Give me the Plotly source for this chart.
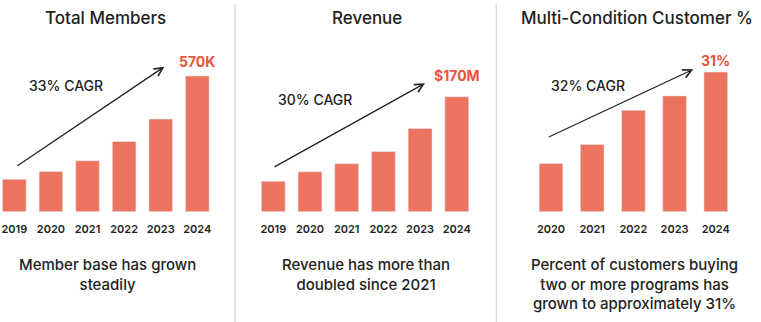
import plotly.graph_objects as go

# ---------------- data ----------------
members_years = ["2019", "2020", "2021", "2022", "2023", "2024"]
members_k = [136, 169, 214, 295, 389, 570]

revenue_years = ["2019", "2020", "2021", "2022", "2023", "2024"]
revenue_m = [45, 59, 71, 89, 123, 170]

multi_years = ["2020", "2021", "2022", "2023", "2024"]
multi_pct = [10.7, 14.9, 22.5, 25.7, 31]

titles = ["Total Members", "Revenue", "Multi-Condition Customer %"]
value_labels = ["570K", "$170M", "31%"]
cagr_labels = ["33% CAGR", "30% CAGR", "32% CAGR"]
captions = [
    ["Member base has grown", "steadily"],
    ["Revenue has more than", "doubled since 2021"],
    ["Percent of customers buying", "two or more programs has", "grown to approximately 31%"],
]

# ---------------- styling ----------------
W, H = 761, 322
BAR = "#EC735F"
LABEL = "#E9533D"
DARK = "#222222"
FONT = "Inter"

def px(x):
    return x / W

def py(y):
    return 1 - y / H

fig = go.Figure()

fig.add_trace(go.Bar(x=members_years, y=members_k, marker_color=BAR, width=0.645,
                     xaxis="x", yaxis="y", hoverinfo="skip"))
fig.add_trace(go.Bar(x=revenue_years, y=revenue_m, marker_color=BAR, width=0.65,
                     xaxis="x2", yaxis="y2", hoverinfo="skip"))
fig.add_trace(go.Bar(x=multi_years, y=multi_pct, marker_color=BAR, width=0.575,
                     xaxis="x3", yaxis="y3", hoverinfo="skip"))

ydom = [py(211.7), py(40)]
xcommon = dict(type="category", showgrid=False, zeroline=False, showline=False,
               ticks="outside", ticklen=7, tickcolor="rgba(0,0,0,0)",
               tickfont=dict(family=FONT, size=11, color=DARK, weight=600),
               fixedrange=True)
ycommon = dict(visible=False, showgrid=False, zeroline=False, fixedrange=True)

fig.update_layout(
    width=W, height=H,
    margin=dict(l=0, r=0, t=0, b=0),
    paper_bgcolor="white", plot_bgcolor="white",
    showlegend=False,
    xaxis=dict(domain=[px(0), px(230)], range=[-0.391, 5.893], anchor="y", **xcommon),
    yaxis=dict(domain=ydom, range=[0, 721.2], anchor="x", **ycommon),
    xaxis2=dict(domain=[px(245), px(490)], range=[-0.771, 5.905], anchor="y2", **xcommon),
    yaxis2=dict(domain=ydom, range=[0, 253.8], anchor="x2", **ycommon),
    xaxis3=dict(domain=[px(510), px(761)], range=[-0.995, 5.097], anchor="y3", **xcommon),
    yaxis3=dict(domain=ydom, range=[0, 38.1], anchor="x3", **ycommon),
)

annotations = []

# titles
for t, cx in zip(titles, [105, 367.3, 636.5]):
    annotations.append(dict(text=t, xref="paper", yref="paper", x=px(cx), y=py(18.5),
                            xanchor="center", yanchor="middle", showarrow=False,
                            font=dict(family=FONT, size=17, color=DARK, weight=500)))

# value labels above last bar (x given as category index)
axes = [("x", "y"), ("x2", "y2"), ("x3", "y3")]
lasts = [(len(members_years) - 1, members_k[-1], 15),
         (len(revenue_years) - 1, revenue_m[-1], 21),
         (len(multi_years) - 1, multi_pct[-1], 12)]
for (xa, ya), lab, (lx, ly, sh) in zip(axes, value_labels, lasts):
    annotations.append(dict(text=lab, xref=xa, yref=ya, x=lx, y=ly, yshift=sh,
                            xanchor="center", yanchor="middle", showarrow=False,
                            font=dict(family=FONT, size=14, color=LABEL, weight=700)))

# CAGR arrows (tail -> head) in data coordinates
arrows = [
    (("x", "y"), (0.046, 189), (4.098, 609)),
    (("x2", "y2"), (-0.008, 65.0), (4.134, 189.8)),
    (("x3", "y3"), (-0.09, 16.42), (3.454, 31.6)),
]
for (xa, ya), tail, head in arrows:
    annotations.append(dict(xref=xa, yref=ya, axref=xa, ayref=ya,
                            x=head[0], y=head[1], ax=tail[0], ay=tail[1],
                            text="", showarrow=True, arrowhead=5, arrowsize=1.3,
                            arrowwidth=1.3, arrowcolor=DARK, standoff=0))

# CAGR labels
for lab, (cx, cy) in zip(cagr_labels, [(65.7, 85.7), (315, 100), (588, 86)]):
    annotations.append(dict(text=lab, xref="paper", yref="paper", x=px(cx), y=py(cy),
                            xanchor="center", yanchor="middle", showarrow=False,
                            font=dict(family=FONT, size=14, color=DARK, weight=500)))

# captions
for lines, cx in zip(captions, [107, 365.7, 634]):
    annotations.append(dict(text="<br>".join(lines), xref="paper", yref="paper",
                            x=px(cx), y=py(253), xanchor="center", yanchor="top",
                            align="center", showarrow=False,
                            font=dict(family=FONT, size=15, color=DARK, weight=500)))

fig.update_layout(annotations=annotations)

# separators
for sx in [235, 496.3]:
    fig.add_shape(type="line", xref="paper", yref="paper",
                  x0=px(sx), x1=px(sx), y0=py(4), y1=0,
                  line=dict(color="#DCDCDC", width=1.5))

fig.write_html("out.html")
